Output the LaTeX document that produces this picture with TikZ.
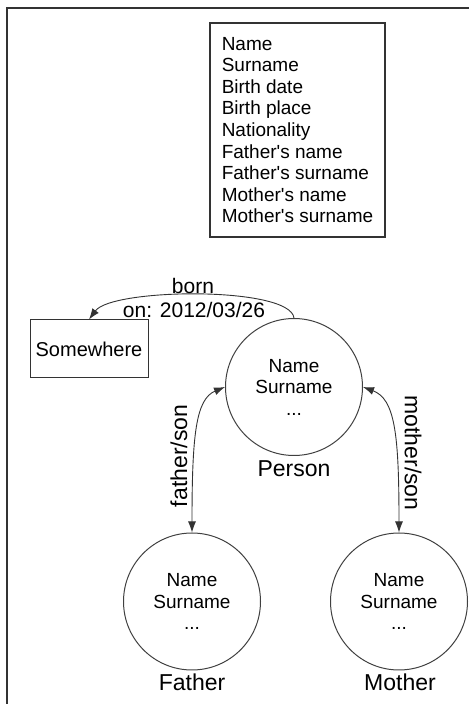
\documentclass[tikz,border=0pt]{standalone}
\usepackage{fontspec}
\setmainfont{Liberation Sans}[Ligatures=TeXOff]
\usetikzlibrary{arrows.meta}
\begin{document}
\begin{tikzpicture}[x=1pt,y=1pt,
  ent/.style={circle,draw=black!75,line width=1pt,minimum size=137pt,inner sep=0pt,align=center,
    font=\fontsize{19}{21.5}\selectfont,text=black},
  biglbl/.style={font=\fontsize{23}{26}\selectfont,anchor=base,text=black},
  elbl/.style={font=\fontsize{21}{24}\selectfont,anchor=base,text=black},
  rlbl/.style={font=\fontsize{23}{26}\selectfont,text=black},
  link/.style={draw=black!80,line width=0.9pt},
  arr/.style={-{Latex[length=11pt,width=8pt]}},
  darr/.style={{Latex[length=11pt,width=8pt]}-{Latex[length=11pt,width=8pt]}}
]
\useasboundingbox (0,0) rectangle (469,704);
% frame
\draw[line width=2pt,black!80] (7,0) -- (7,696) -- (469,696);

% attribute box
\node[draw=black!80,line width=1.2pt,minimum width=175pt,minimum height=214pt,inner sep=0pt,
  align=left,font=\fontsize{19}{21.6}\selectfont,text=black] (attrs) at (297.5,574)
  {Name\\Surname\\Birth date\\Birth place\\Nationality\\Father's name\\Father's surname\\Mother's name\\Mother's surname};

% Somewhere box
\node[draw=black!80,line width=1pt,minimum width=118pt,minimum height=58pt,inner sep=0pt,
  font=\fontsize{20}{22}\selectfont,text=black] (somewhere) at (89,355) {Somewhere};

% entities
\node[ent] (person) at (294,317) {Name\\Surname\\...};
\node[ent] (father) at (192,102.5) {Name\\Surname\\...};
\node[ent] (mother) at (399,102.5) {Name\\Surname\\...};

\node[biglbl] (personlbl) at (294,227) {Person};
\node[biglbl] (fatherlbl) at (192,13) {Father};
\node[biglbl] (motherlbl) at (400,13) {Mother};

% born edge
\draw[link,arr] (person.north) .. controls (290,418) and (112,416) .. (somewhere.north);
\node[elbl] (bornlbl) at (193,410.5) {born};
\node[elbl] (onlbl) at (194,386) {on: 2012/03/26};

% father/son
\draw[link,darr] (father.north) .. controls (192,270) and (196,305) .. (person.west);
\node[rlbl,rotate=90] (fslbl) at (179,248) {father/son};

% mother/son
\draw[link,darr] (mother.north) .. controls (399,270) and (395,305) .. (person.east);
\node[rlbl,rotate=-90] (mslbl) at (413,251) {mother/son};
\end{tikzpicture}
\end{document}
